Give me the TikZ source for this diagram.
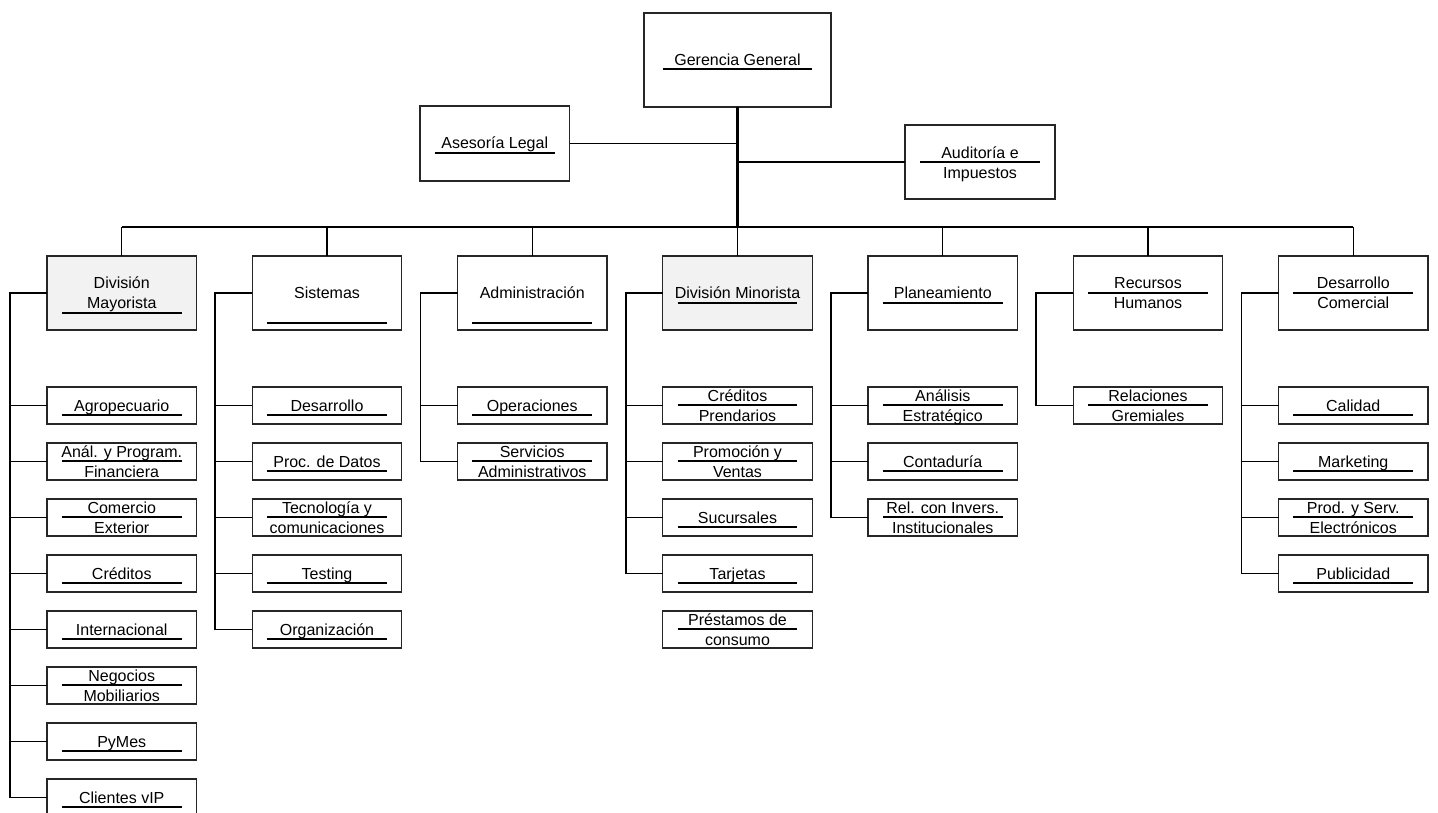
\documentclass[tikz,border=0pt]{standalone}
\usepackage{fontspec}
\setmainfont{Liberation Sans}
\usetikzlibrary{calc}
\definecolor{divgray}{HTML}{F2F2F2}
\definecolor{edgecol}{HTML}{262626}
\newcommand\boxfillcol{white}
\tikzset{
  ubox/.style={draw=edgecol, line width=1.4pt, inner sep=0pt, outer sep=0pt},
  uline/.style={draw=black, line width=1.3pt},
  txt/.style={anchor=base, inner sep=0pt, font=\fontsize{16}{20}\selectfont},
  trunk/.style={line width=3pt},
  bus/.style={line width=2pt},
  drop/.style={line width=1.3pt},
  spine/.style={line width=1.7pt},
  branch/.style={line width=1.2pt},
}
% name, x, y, width, height, underline offset, first baseline offset, text1, text2
\newcommand\obox[9]{%
  \node[ubox, fill=\boxfillcol, minimum width=#4, minimum height=#5, anchor=north west] (#1) at (#2,#3) {};
  \draw[uline] ($(#1.north west)!0.1!(#1.north east)+(0,#6)$) -- ($(#1.north west)!0.9!(#1.north east)+(0,#6)$);
  \node[txt] (#1-a) at ($(#1.north)+(0,#7)$) {#8};
  \if\relax\detokenize{#9}\relax\else
    \node[txt] (#1-b) at ($(#1.north)+(0,#7+20)$) {#9};
  \fi}
\newcommand\lsingle[4]{\obox{#1}{#2}{#3}{149.5}{37}{28}{24}{#4}{}}
\newcommand\ldouble[5]{\obox{#1}{#2}{#3}{149.5}{37}{18}{14}{#4}{#5}}
\newcommand\mkspine[2]{%
  \coordinate (#1-s) at ($(#1.west)+(-37,0)$);
  \draw[spine] (#1.west) -- (#1-s) -- (#1-s |- #2.west);}
\begin{document}
\begin{tikzpicture}[x=1pt,y=-1pt]
\useasboundingbox (0,0) rectangle (1438,812);
\clip (0,0) rectangle (1438,812);

% top level
\obox{gg}{644}{13}{187}{94}{56}{52.5}{Gerencia General}{}
\obox{al}{420}{106}{149.5}{75}{47}{42.5}{Asesoría Legal}{}
\obox{ai}{905}{125}{150}{74}{37}{33.5}{Auditoría e}{Impuestos}

\coordinate (bj) at ($(gg.south)+(0,120)$);
\draw[trunk] (gg.south) -- (bj);
\draw[drop] (al.east) -- (al.east -| gg.south);
\draw[drop] (ai.west) -- (ai.west -| gg.south);

% second level
\renewcommand\boxfillcol{divgray}
\obox{dmay}{47}{256}{149.5}{74}{57}{32.5}{División}{Mayorista}
\renewcommand\boxfillcol{white}
\obox{sist}{252.25}{256}{149.5}{74}{67}{42}{Sistemas}{}
\obox{admn}{457.5}{256}{149.5}{74}{67}{42}{Administración}{}
\renewcommand\boxfillcol{divgray}
\obox{dmin}{662.75}{256}{149.5}{74}{47}{42}{División Minorista}{}
\renewcommand\boxfillcol{white}
\obox{plan}{868}{256}{149.5}{74}{47}{42}{Planeamiento}{}
\obox{rrhh}{1073.25}{256}{149.5}{74}{37}{32.5}{Recursos}{Humanos}
\obox{dcom}{1278.5}{256}{149.5}{74}{37}{32.5}{Desarrollo}{Comercial}

\draw[bus] (dmay.north |- bj) -- (dcom.north |- bj);
\foreach \n in {dmay,sist,admn,dmin,plan,rrhh,dcom}
  \draw[drop] (\n.north) -- (\n.north |- bj);

% Division Mayorista
\lsingle{m1}{47}{387}{Agropecuario}
\ldouble{m2}{47}{443}{Anál. y Program.}{Financiera}
\ldouble{m3}{47}{499}{Comercio}{Exterior}
\lsingle{m4}{47}{555}{Créditos}
\lsingle{m5}{47}{611}{Internacional}
\ldouble{m6}{47}{667}{Negocios}{Mobiliarios}
\lsingle{m7}{47}{723}{PyMes}
\lsingle{m8}{47}{779}{Clientes vIP}
\mkspine{dmay}{m8}
\foreach \c in {m1,m2,m3,m4,m5,m6,m7,m8}
  \draw[branch] (\c.west) -- (\c.west -| dmay-s);

% Sistemas
\lsingle{s1}{252.25}{387}{Desarrollo}
\lsingle{s2}{252.25}{443}{Proc. de Datos}
\ldouble{s3}{252.25}{499}{Tecnología y}{comunicaciones}
\lsingle{s4}{252.25}{555}{Testing}
\lsingle{s5}{252.25}{611}{Organización}
\mkspine{sist}{s5}
\foreach \c in {s1,s2,s3,s4,s5}
  \draw[branch] (\c.west) -- (\c.west -| sist-s);

% Administracion
\lsingle{a1}{457.5}{387}{Operaciones}
\ldouble{a2}{457.5}{443}{Servicios}{Administrativos}
\mkspine{admn}{a2}
\foreach \c in {a1,a2}
  \draw[branch] (\c.west) -- (\c.west -| admn-s);

% Division Minorista
\ldouble{n1}{662.75}{387}{Créditos}{Prendarios}
\ldouble{n2}{662.75}{443}{Promoción y}{Ventas}
\lsingle{n3}{662.75}{499}{Sucursales}
\lsingle{n4}{662.75}{555}{Tarjetas}
\ldouble{n5}{662.75}{611}{Préstamos de}{consumo}
\mkspine{dmin}{n4}
\foreach \c in {n1,n2,n3,n4}
  \draw[branch] (\c.west) -- (\c.west -| dmin-s);

% Planeamiento
\ldouble{p1}{868}{387}{Análisis}{Estratégico}
\lsingle{p2}{868}{443}{Contaduría}
\ldouble{p3}{868}{499}{Rel. con Invers.}{Institucionales}
\mkspine{plan}{p3}
\foreach \c in {p1,p2,p3}
  \draw[branch] (\c.west) -- (\c.west -| plan-s);

% Recursos Humanos
\ldouble{r1}{1073.25}{387}{Relaciones}{Gremiales}
\mkspine{rrhh}{r1}
\draw[branch] (r1.west) -- (r1.west -| rrhh-s);

% Desarrollo Comercial
\lsingle{c1}{1278.5}{387}{Calidad}
\lsingle{c2}{1278.5}{443}{Marketing}
\ldouble{c3}{1278.5}{499}{Prod. y Serv.}{Electrónicos}
\lsingle{c4}{1278.5}{555}{Publicidad}
\mkspine{dcom}{c4}
\foreach \c in {c1,c2,c3,c4}
  \draw[branch] (\c.west) -- (\c.west -| dcom-s);
\end{tikzpicture}
\end{document}
